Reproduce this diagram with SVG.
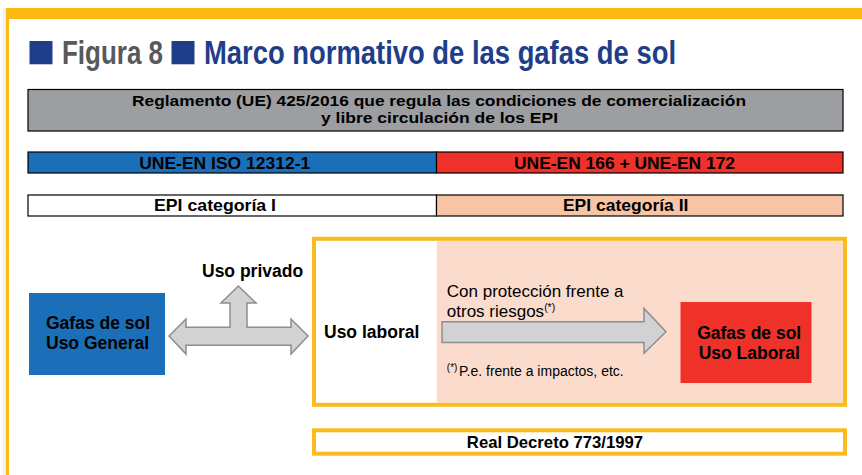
<svg xmlns="http://www.w3.org/2000/svg" width="862" height="475" viewBox="0 0 862 475">
<defs>
<linearGradient id="shadow" x1="0" y1="0" x2="1" y2="0">
<stop offset="0" stop-color="#ffffff"/>
<stop offset="1" stop-color="#ececec"/>
</linearGradient>
<style>
.b{font-family:"Liberation Sans",Arial,sans-serif;font-weight:bold;fill:#000}
.r{font-family:"Liberation Sans",Arial,sans-serif;font-weight:normal;fill:#000}
.t{font-family:"Liberation Sans",Arial,sans-serif;font-weight:bold;font-size:32.5px}
.bar{stroke:#000;stroke-width:1.2}
.ybox{fill:none;stroke:#fbbb1e;stroke-width:4}
.arrow{fill:#d1d2d4;stroke:#8d8e90;stroke-width:1.5;stroke-linejoin:miter}
</style>
</defs>
<rect width="862" height="475" fill="#ffffff"/>
<rect x="0" y="8" width="6" height="467" fill="url(#shadow)"/>
<rect x="6" y="8" width="856" height="11" fill="#fbbb14"/>
<rect x="6" y="8" width="3" height="467" fill="#fbbb14"/>

<g id="title">
<rect x="29.5" y="41" width="23" height="23.3" fill="#1f3e8a"/>
<text class="t" x="62" y="64.3" fill="#58595b" textLength="101" lengthAdjust="spacingAndGlyphs">Figura 8</text>
<rect x="171.5" y="41" width="23" height="23.3" fill="#1f3e8a"/>
<text class="t" x="204" y="64.3" fill="#1f3e8a" textLength="472" lengthAdjust="spacingAndGlyphs">Marco normativo de las gafas de sol</text>
</g>

<g id="reglamento">
<rect class="bar" x="28" y="89.5" width="815" height="41.5" fill="#9c9ea1"/>
<text class="b" x="439" y="106" font-size="15.5" text-anchor="middle" textLength="614" lengthAdjust="spacingAndGlyphs">Reglamento (UE) 425/2016 que regula las condiciones de comercialización</text>
<text class="b" x="439.5" y="123.3" font-size="15.5" text-anchor="middle" textLength="237" lengthAdjust="spacingAndGlyphs">y libre circulación de los EPI</text>
</g>

<g id="une-iso">
<rect class="bar" x="28" y="152" width="408.5" height="21" fill="#1b6fb8"/>
<text class="b" x="224.7" y="169.3" font-size="16.5" text-anchor="middle" textLength="171" lengthAdjust="spacingAndGlyphs">UNE-EN ISO 12312-1</text>
</g>
<g id="une-166">
<rect class="bar" x="436.5" y="152" width="406.5" height="21" fill="#ee3129"/>
<text class="b" x="624.5" y="169.3" font-size="16.5" text-anchor="middle" textLength="221" lengthAdjust="spacingAndGlyphs">UNE-EN 166 + UNE-EN 172</text>
</g>

<g id="epi-1">
<rect class="bar" x="28" y="195" width="408.5" height="21" fill="#ffffff"/>
<text class="b" x="215" y="211" font-size="16.5" text-anchor="middle" textLength="122" lengthAdjust="spacingAndGlyphs">EPI categoría I</text>
</g>
<g id="epi-2">
<rect class="bar" x="436.5" y="195" width="406.5" height="21" fill="#f7c5a6"/>
<text class="b" x="625.7" y="211" font-size="16.5" text-anchor="middle" textLength="125.5" lengthAdjust="spacingAndGlyphs">EPI categoría II</text>
</g>

<g id="uso-general">
<rect x="29" y="293" width="136" height="82" fill="#1b6fb8"/>
<text class="b" x="46" y="328.7" font-size="17.5">Gafas de sol</text>
<text class="b" x="46" y="349" font-size="17.5">Uso General</text>
</g>

<g id="uso-privado">
<text class="b" x="202" y="276.7" font-size="17.5">Uso privado</text>
</g>

<g id="uso-laboral-box">
<rect x="316" y="241" width="120.7" height="161.7" fill="#ffffff"/>
<rect x="436.7" y="241" width="406.3" height="161.7" fill="#fbdccc"/>
<rect class="ybox" x="314" y="238.8" width="531" height="166"/>
<text class="b" x="324" y="338" font-size="17.5">Uso laboral</text>
<text class="r" x="446.8" y="296.7" font-size="17">Con protección frente a</text>
<text class="r" x="446.8" y="317.3" font-size="17">otros riesgos<tspan font-size="10.5" dy="-6.5">(*)</tspan></text>
<text class="r" x="446.8" y="371" font-size="10">(*)</text>
<text class="r" x="459" y="376" font-size="14">P.e. frente a impactos, etc.</text>
</g>

<g id="uso-laboral">
<rect x="680.5" y="302" width="131" height="81" fill="#ee3129"/>
<text class="b" x="749.2" y="339.3" font-size="17.5" text-anchor="middle">Gafas de sol</text>
<text class="b" x="749.2" y="358.7" font-size="17.5" text-anchor="middle">Uso Laboral</text>
</g>

<g id="real-decreto">
<rect class="ybox" x="314" y="430.3" width="531" height="23.4" fill="#ffffff"/>
<text class="b" x="555" y="448.3" font-size="16.7" text-anchor="middle">Real Decreto 773/1997</text>
</g>

<g id="connectors">
<polygon class="arrow" points="169,336 186,319 186,327.3 230,327.3 230,303 221,303 238.3,286 256,303 247,303 247,327.3 291,327.3 291,319 308,336 291,354 291,345.3 186,345.3 186,354"/>
<polygon class="arrow" points="442,321.7 644,321.7 644,308.5 666,331.7 644,353.3 644,342.5 442,342.5"/>
</g>
</svg>
